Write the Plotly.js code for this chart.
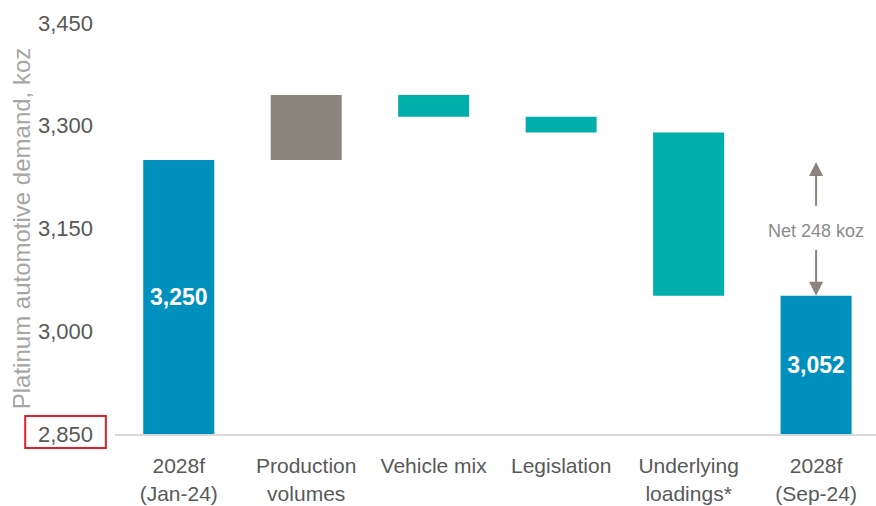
<!DOCTYPE html>
<html>
<head>
<meta charset="utf-8">
<script src="https://cdn.plot.ly/plotly-3.0.1.min.js"></script>
<style>html,body{margin:0;padding:0;background:#fff;}#chart{width:876px;height:506px;}</style>
</head>
<body>
<div id="chart"></div>
<script>
// ---- data ----
const categories = ["2028f<br>(Jan-24)", "Production<br>volumes", "Vehicle mix", "Legislation", "Underlying<br>loadings*", "2028f<br>(Sep-24)"];
const startValue = 3250;
const changes = [95, -32, -23, -238];
const endValue = 3052;
const axisBase = 2850;
const yTicks = [2850, 3000, 3150, 3300, 3450];
const yTickLabels = ["2,850", "3,000", "3,150", "3,300", "3,450"];
const barLabels = ["3,250", "", "", "", "", "3,052"];
const netLabel = "Net 248 koz";

// ---- build floating bars ----
const bases = [axisBase];
const lengths = [startValue - axisBase];
let running = startValue;
changes.forEach(c => {
  const top = running + c;
  bases.push(Math.min(running, top));
  lengths.push(Math.abs(c));
  running = top;
});
bases.push(axisBase);
lengths.push(endValue - axisBase);

const BLUE = "#0090BE", GREY = "#8B847A", TEAL = "#00AFA9";
const colors = [BLUE].concat(changes.map(c => c >= 0 ? GREY : TEAL)).concat([BLUE]);

const trace = {
  type: "bar",
  x: [0, 1, 2, 3, 4, 5],
  y: lengths,
  base: bases,
  width: 0.557,
  marker: {color: colors, line: {width: 0}},
  text: barLabels,
  textposition: "inside",
  insidetextanchor: "middle",
  textangle: 0,
  insidetextfont: {family: "Liberation Sans, Arial, sans-serif", size: 23, color: "#ffffff", weight: "bold"},
  hoverinfo: "skip"
};

const arrowColor = "#8B847A";
const layout = {
  width: 876, height: 506,
  margin: {l: 115, r: 0, t: 23, b: 72},
  paper_bgcolor: "#ffffff", plot_bgcolor: "#ffffff",
  showlegend: false,
  xaxis: {
    range: [-0.5, 5.47],
    tickvals: [0, 1, 2, 3, 4, 5],
    ticktext: categories,
    tickfont: {family: "Liberation Sans, Arial, sans-serif", size: 21, color: "#595959"},
    ticklabelstandoff: 12,
    showgrid: false, zeroline: false,
    showline: true, linecolor: "#D9D9D9", linewidth: 2,
    ticks: "", ticklen: 0
  },
  yaxis: {
    range: [axisBase, 3450],
    tickvals: yTicks,
    ticktext: yTickLabels,
    tickfont: {family: "Liberation Sans, Arial, sans-serif", size: 22, color: "#595959"},
    ticklabelstandoff: 21,
    showgrid: false, zeroline: false, showline: false,
    ticks: "", ticklen: 0,
    title: {text: "Platinum automotive demand, koz", font: {family: "Liberation Sans, Arial, sans-serif", size: 24, color: "#A6A6A6"}, standoff: 0}
  },
  shapes: [{
    type: "rect", xref: "paper", yref: "paper",
    x0: -0.118, x1: -0.012, y0: -0.034, y1: 0.044,
    line: {color: "#E0202A", width: 2}, fillcolor: "rgba(0,0,0,0)"
  }],
  annotations: [
    {x: 5, y: 3147, xref: "x", yref: "y", text: netLabel, showarrow: false,
     font: {family: "Liberation Sans, Arial, sans-serif", size: 18, color: "#8C8C8C"}},
    {x: 5, y: 3247, xref: "x", yref: "y", ax: 5, ay: 3181, axref: "x", ayref: "y",
     text: "", showarrow: true, arrowhead: 2, arrowsize: 1.4, arrowwidth: 2, arrowcolor: arrowColor},
    {x: 5, y: endValue, xref: "x", yref: "y", ax: 5, ay: 3121, axref: "x", ayref: "y",
     text: "", showarrow: true, arrowhead: 2, arrowsize: 1.4, arrowwidth: 2, arrowcolor: arrowColor}
  ]
};

Plotly.newPlot("chart", [trace], layout, {displayModeBar: false, staticPlot: true});
</script>
</body>
</html>
